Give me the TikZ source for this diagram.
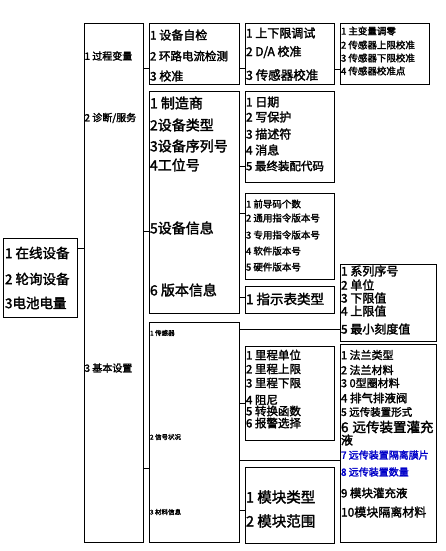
\documentclass[tikz,border=0pt]{standalone}
\usepackage{fontspec}
\setmainfont{Noto Sans CJK SC}[FakeBold=2]
\definecolor{itemblue}{RGB}{0,0,200}
\newcommand\myfs[1]{\fontsize{#1}{#1}\selectfont}
\newcommand\mybox[5]{\node[box, minimum width=#4pt, minimum height=#5pt] (#1) at (#2,#3) {};}
\newcommand\mytxt[5]{\node[lab, font=\myfs{#4}] (#1) at (#2,#3) {#5};}
\begin{document}
\begin{tikzpicture}[x=1pt,y=-1pt,
  box/.style={draw, line width=0.9pt, anchor=north west, inner sep=0, outer sep=0},
  lab/.style={anchor=west, inner sep=0, outer sep=0},
  link/.style={draw, line width=0.9pt}]
\useasboundingbox (0,0) rectangle (446,551);
% boxes
\mybox{root}{3}{238}{74}{79}
\mybox{lone}{84}{23}{59}{519}
\mybox{bone}{149}{23}{90}{61}
\mybox{btwo}{149}{91}{90}{222}
\mybox{bthree}{149}{322}{90}{220}
\mybox{bA}{245}{23}{89}{61}
\mybox{bB}{245}{91}{89}{91}
\mybox{bC}{245}{193}{89}{86}
\mybox{bD}{245}{286}{89}{27}
\mybox{bE}{340}{264}{96}{77}
\mybox{bF}{245}{346}{89}{94}
\mybox{bG}{245}{467}{89}{76}
\mybox{bH}{340}{344}{96}{198}
\mybox{bI}{340}{23}{89}{61}
% connectors
\draw[link] (root.east |- 0,248) -- (lone.west |- 0,248);
\draw[link] (lone.east |- 0,68) -- (bone.west |- 0,68);
\draw[link] (lone.east |- 0,231) -- (btwo.west |- 0,231);
\draw[link] (lone.east |- 0,468) -- (bthree.west |- 0,468);
\draw[link] (bone.east |- 0,68) -- (bA.west |- 0,68);
\draw[link] (bA.east |- 0,69) -- (bI.west |- 0,69);
\draw[link] (btwo.east |- 0,166) -- (bB.west |- 0,166);
\draw[link] (btwo.east |- 0,213) -- (bC.west |- 0,213);
\draw[link] (btwo.east |- 0,297) -- (bD.west |- 0,297);
\draw[link] (bthree.east |- 0,329) -- (bE.west |- 0,329);
\draw[link] (bthree.east |- 0,403) -- (bF.west |- 0,403);
\draw[link] (bthree.east |- 0,460) -- (bH.west |- 0,460);
\draw[link] (bthree.east |- 0,510) -- (bG.west |- 0,510);
% root texts
\mytxt{r1}{5}{253}{13.5}{1 在线设备}
\mytxt{r2}{5}{279}{13.5}{2 轮询设备}
\mytxt{r3}{5}{303}{13.5}{3电池电量}
% level 1
\mytxt{l1}{84.5}{56}{10}{1 过程变量}
\mytxt{l2}{84.5}{118}{10}{2 诊断/服务}
\mytxt{l3}{84.5}{368}{10}{3 基本设置}
% box one
\mytxt{o1}{150}{35}{12}{1 设备自检}
\mytxt{o2}{150}{56}{11.5}{2 环路电流检测}
\mytxt{o3}{150}{76}{12}{3 校准}
% box two
\mytxt{t1}{150}{103}{14}{1 制造商}
\mytxt{t2}{150}{125}{14}{2设备类型}
\mytxt{t3}{150}{146}{14}{3设备序列号}
\mytxt{t4}{150}{165}{14}{4工位号}
\mytxt{t5}{150}{228}{14}{5设备信息}
\mytxt{t6}{150}{290}{14}{6 版本信息}
% box three
\mytxt{h1}{150}{333}{6.5}{1 传感器}
\mytxt{h2}{150}{437}{6.5}{2 信号状况}
\mytxt{h3}{150}{512}{6.5}{3 材料信息}
% box A
\mytxt{a1}{246}{33}{12}{1 上下限调试}
\mytxt{a2}{246}{52}{12}{2 D/A 校准}
\mytxt{a3}{246}{75}{12.5}{3 传感器校准}
% box I
\mytxt{i1}{341}{31}{9.5}{1 主变量调零}
\mytxt{i2}{341}{45}{9.5}{2 传感器上限校准}
\mytxt{i3}{341}{58}{9.5}{3 传感器下限校准}
\mytxt{i4}{341}{71}{9.5}{4 传感器校准点}
% box B
\mytxt{bb1}{246}{102}{12}{1 日期}
\mytxt{bb2}{246}{117}{12}{2 写保护}
\mytxt{bb3}{246}{134}{12}{3 描述符}
\mytxt{bb4}{246}{150}{12}{4 消息}
\mytxt{bb5}{246}{166}{11.5}{5 最终装配代码}
% box C
\mytxt{c1}{246}{204}{9.5}{1 前导码个数}
\mytxt{c2}{246}{218}{9.5}{2 通用指令版本号}
\mytxt{c3}{246}{235}{9.5}{3 专用指令版本号}
\mytxt{c4}{246}{251}{9.5}{4 软件版本号}
\mytxt{c5}{246}{267}{9.5}{5 硬件版本号}
% box D
\mytxt{d1}{246}{299}{13.5}{1 指示表类型}
% box E
\mytxt{e1}{341}{271}{12}{1 系列序号}
\mytxt{e2}{341}{285}{12}{2 单位}
\mytxt{e3}{341}{298}{12}{3 下限值}
\mytxt{e4}{341}{311}{12}{4 上限值}
\mytxt{e5}{341}{329}{12}{5 最小刻度值}
% box F
\mytxt{f1}{246}{355}{11.5}{1 里程单位}
\mytxt{f2}{246}{369}{11.5}{2 里程上限}
\mytxt{f3}{246}{383}{11.5}{3 里程下限}
\mytxt{f4}{246}{400}{11.5}{4 阻尼}
\mytxt{f5}{246}{411}{11.5}{5 转换函数}
\mytxt{f6}{246}{423}{11.5}{6 报警选择}
% box G
\mytxt{g1}{246}{497}{14.5}{1 模块类型}
\mytxt{g2}{246}{521}{14.5}{2 模块范围}
% box H
\mytxt{k1}{341}{355}{11}{1 法兰类型}
\mytxt{k2}{341}{370}{11}{2 法兰材料}
\mytxt{k3}{341}{383}{11}{3 0型圈材料}
\mytxt{k4}{341}{398}{11.5}{4 排气排液阀}
\mytxt{k5}{341}{412}{10.5}{5 远传装置形式}
\mytxt{k6}{341}{427}{13.5}{6\hspace{4pt}远传装置灌充}
\mytxt{k6b}{341}{440}{12}{液}
\node[lab, font=\myfs{10}, text=itemblue] (k7) at (341,455) {7 远传装置隔离膜片};
\node[lab, font=\myfs{10}, text=itemblue] (k8) at (341,472) {8 远传装置数量};
\mytxt{k9}{341}{493}{11.5}{9 模块灌充液}
\mytxt{k10}{341}{512}{12}{10模块隔离材料}
\end{tikzpicture}
\end{document}
